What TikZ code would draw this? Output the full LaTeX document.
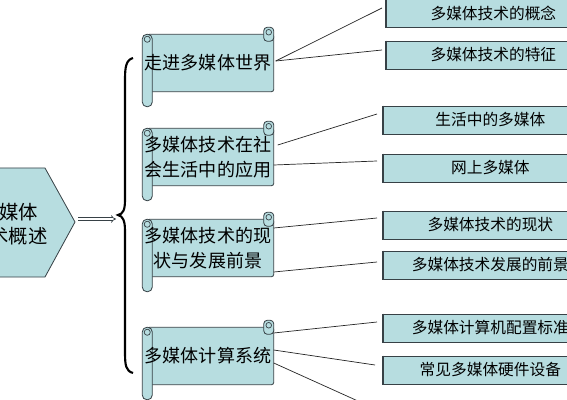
\documentclass[tikz,border=0pt]{standalone}
\usepackage{fontspec}
\usepackage{xcolor}
\usetikzlibrary{arrows.meta, positioning, calc, backgrounds}
\newfontfamily\cjk{Noto Sans CJK SC}
\definecolor{MMFill}{RGB}{183,221,224}
\definecolor{MMEdge}{RGB}{55,65,70}

\begin{document}
\begin{tikzpicture}[x=0.03cm, y=-0.03cm,
    scroll/.style={minimum width=3.93cm, minimum height=1.71cm, inner sep=0pt, align=center,
      font=\cjk\fontsize{15.4}{21}\selectfont},
    paper/.style={fill=MMFill, draw=MMEdge, line width=0.7pt},
    leaf/.style={anchor=west, fill=MMFill, draw=MMEdge, line width=0.6pt, minimum width=6.42cm,
      minimum height=0.84cm, inner sep=0pt, font=\cjk\fontsize{13.4}{16}\selectfont},
    link/.style={draw=black!85, line width=0.6pt}]
    \useasboundingbox (0,0) rectangle (567,400);
    \clip (0,0) rectangle (567,400);

    % Root
    \draw[paper] (-40,168) -- (45,168) -- (75,222) -- (45,277) -- (-40,277) -- cycle;
    \node[font=\cjk\fontsize{16.5}{20.5}\selectfont, align=center] (root) at (9,224) {多媒体\\技术概述};
    \coordinate (tip) at (78,219);
    \coordinate (bracemid) at (116,219);
    \draw[double=white, double distance=1.6pt, line width=0.6pt, draw=MMEdge, -{Implies[length=5pt]}] (tip) -- (bracemid);

    % Brace
    \draw[line width=1.8pt] (133,58) .. controls (126,60) and (125,67) .. (125,80) -- (125,200)
      .. controls (125,210) and (123,214) .. (118,215) .. controls (123,216) and (125,221) .. (125,231)
      -- (125,352) .. controls (125,366) and (126,371) .. (133,373);

    % Chapters
    \node[scroll] (s1) at (208,63) {走进多媒体世界};
    \node[scroll] (s2) at (208,157) {多媒体技术在社\\会生活中的应用};
    \node[scroll] (s3) at (208,248) {多媒体技术的现\\状与发展前景};
    \node[scroll] (s4) at (208,356) {多媒体计算系统};

    \begin{scope}[on background layer]
      \fill[white] (0,0) rectangle (567,400);
      \foreach \s in {s1,s2,s3,s4} {
        \draw[paper, rounded corners=2pt] ($(\s.north west)+(5,0)$) rectangle (\s.south east);
        \draw[paper, rounded corners=4pt] (\s.north west) rectangle ($(\s.south west)+(10,15)$);
        \draw[MMEdge, line width=0.6pt] ($(\s.north west)+(5,5)$) circle (2.6pt);
        \draw[paper, rounded corners=3pt] ($(\s.north east)+(-10,-7)$) rectangle ($(\s.north east)+(0,7)$);
        \draw[MMEdge, line width=0.6pt] ($(\s.north east)+(-5,-2)$) circle (2.4pt);
      }
    \end{scope}

    % Sections
    \node[leaf] (b11) at (386,13) {多媒体技术的概念};
    \node[leaf] (b12) at (386,55) {多媒体技术的特征};
    \node[leaf] (b21) at (383,120) {生活中的多媒体};
    \node[leaf] (b22) at (383,168) {网上多媒体};
    \node[leaf] (b31) at (383,225) {多媒体技术的现状};
    \node[leaf] (b32) at (383,265) {多媒体技术发展的前景};
    \node[leaf] (b41) at (383,328) {多媒体计算机配置标准};
    \node[leaf] (b42) at (383,370) {常见多媒体硬件设备};
    \coordinate (b43) at (400,420);
    \foreach \b in {b11,b12,b21,b22,b31,b32,b41,b42}
      \draw[MMEdge, line width=1.3pt] (\b.north west) -- (\b.south west) -- (\b.south east);

    % Links
    \draw[link] ($(s1.east)+(2,-2)$) -- ($(b11.west)+(-4,-5)$);
    \draw[link] ($(s1.east)+(2,-2)$) -- ($(b12.west)+(-4,-5)$);
    \draw[link] ($(s2.east)+(4,-12)$) -- ($(b21.west)+(-6,-6)$);
    \draw[link] ($(s2.east)+(0,8)$) -- ($(b22.west)+(-6,-7)$);
    \draw[link] ($(s3.east)+(0,-20)$) -- ($(b31.west)+(-6,-7)$);
    \draw[link] ($(s3.east)+(0,24)$) -- ($(b32.west)+(-6,-3)$);
    \draw[link] ($(s4.east)+(0,-23)$) -- ($(b41.west)+(-6,-6)$);
    \draw[link] ($(s4.east)+(0,-6)$) -- ($(b42.west)+(-8,-5)$);
    \draw[link] ($(s4.east)+(0,7)$) -- (b43);
\end{tikzpicture}
\end{document}
